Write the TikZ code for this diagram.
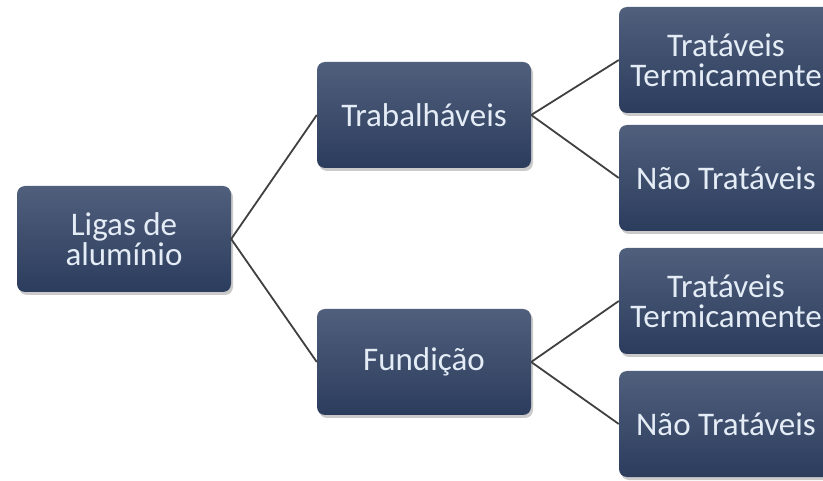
\documentclass[tikz,border=0pt]{standalone}
\usepackage{fontspec}
\setmainfont{Carlito}
\usepackage{tikz}
\usetikzlibrary{shadows}

\definecolor{boxtop}{RGB}{80,95,124}
\definecolor{boxbottom}{RGB}{44,60,93}
\definecolor{boxtext}{RGB}{228,236,246}
\definecolor{linkgray}{RGB}{64,64,64}

\begin{document}
\begin{tikzpicture}%
        [x=1pt, y=-1pt,
        box/.style={rounded corners=8pt, top color=boxtop, bottom color=boxbottom,
                    minimum width=214pt, minimum height=106pt, inner sep=0pt,
                    align=center, text=boxtext,
                    font=\fontsize{33}{30}\selectfont,
                    drop shadow={shadow xshift=2pt, shadow yshift=-3pt, opacity=0.35, fill=black!60}},
        link/.style={color=linkgray, line width=1.8pt}]

    %% Page frame
    \useasboundingbox (0,0) rectangle (823,481);
    \clip (0,0) rectangle (823,481);
    %%
    %% Drawing the boxes
    %%
    \node[box] (ligas) at (124,239) {Ligas de\\alumínio};
    \node[box] (trab)  at (424,115) {Trabalháveis};
    \node[box] (fund)  at (424,362) {Fundição};
    \node[box] (trabtt) at (726,60)  {Tratáveis\\Termicamente};
    \node[box] (trabnt) at (726,178) {Não Tratáveis};
    \node[box] (fundtt) at (726,301) {Tratáveis\\Termicamente};
    \node[box] (fundnt) at (726,424) {Não Tratáveis};
    %%
    %% Drawing the links
    %%
    \draw[link] (ligas.east) -- (trab.west);
    \draw[link] (ligas.east) -- (fund.west);
    \draw[link] (trab.east) -- (trabtt.west);
    \draw[link] (trab.east) -- (trabnt.west);
    \draw[link] (fund.east) -- (fundtt.west);
    \draw[link] (fund.east) -- (fundnt.west);
    %%
\end{tikzpicture}
\end{document}
